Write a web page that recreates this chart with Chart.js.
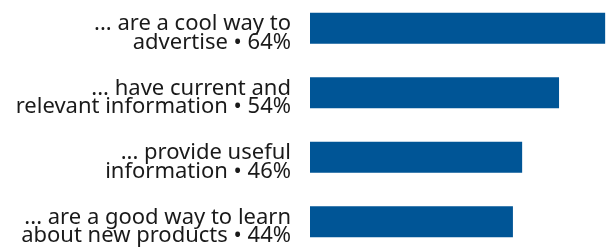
<!DOCTYPE html>
<html>
<head>
<meta charset="utf-8">
<script src="https://cdn.jsdelivr.net/npm/chart.js@4"></script>
<style>
  html, body { margin: 0; padding: 0; background: #fff; overflow: hidden; }
  #wrap { position: absolute; left: 0; top: -4px; width: 613px; height: 258px; }
</style>
</head>
<body>
<div id="wrap"><canvas id="barChart"></canvas></div>
<script>
// Statements (multi-line labels) and share of respondents, %
const statements = [
  ["... are a cool way to", "advertise"],
  ["... have current and", "relevant information"],
  ["... provide useful", "information"],
  ["... are a good way to learn", "about new products"],
];
const shares = [64, 54, 46, 44];

// Append the value to the last line of each label
const labels = statements.map((lines, i) => {
  const out = lines.slice();
  out[out.length - 1] += " \u2022 " + shares[i] + "%";
  return out;
});

const ctx = document.getElementById("barChart").getContext("2d");
new Chart(ctx, {
  type: "bar",
  data: {
    labels: labels,
    datasets: [
      {
        data: shares,
        backgroundColor: "#005596",
        borderWidth: 0,
        categoryPercentage: 1,
        barPercentage: 0.48,
      },
    ],
  },
  options: {
    indexAxis: "y",
    responsive: true,
    maintainAspectRatio: false,
    animation: false,
    layout: { padding: 0 },
    plugins: {
      legend: { display: false },
      tooltip: { enabled: false },
    },
    scales: {
      x: {
        display: false,
        min: 0,
        max: 65.7,
      },
      y: {
        grid: { display: false, drawTicks: false },
        border: { display: false },
        afterFit: (scale) => {
          scale.width = 310;
          // no extra room for the first/last label
          scale.paddingTop = 0;
          scale.paddingBottom = 0;
        },
        ticks: {
          color: "#1a1a1a",
          padding: 19,
          labelOffset: 5,
          font: { family: "'Noto Sans'", size: 22, lineHeight: 0.85 },
        },
      },
    },
  },
});
</script>
</body>
</html>
